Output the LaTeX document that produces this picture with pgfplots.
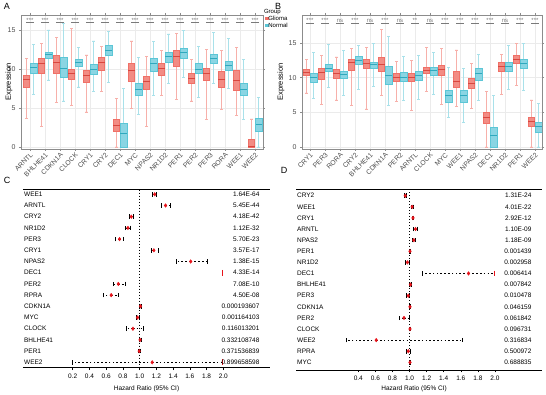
\documentclass[border=0pt]{standalone}
\usepackage{fontspec}
\setmainfont{Liberation Sans}
\usepackage{pgfplots}
\usepackage{pgfplotstable}
\pgfplotsset{compat=1.18}
\usepgfplotslibrary{statistics}

\definecolor{glioFill}{HTML}{F28C84}
\definecolor{glioLine}{HTML}{F07067}
\definecolor{glioMed}{HTML}{D9463E}
\definecolor{glioWhisk}{HTML}{F7B0AA}
\definecolor{normFill}{HTML}{8AD5E3}
\definecolor{normLine}{HTML}{5CC6D6}
\definecolor{normMed}{HTML}{2FA9BE}
\definecolor{normWhisk}{HTML}{A9E1EA}
\definecolor{tickgray}{HTML}{4D4D4D}
\definecolor{gridgray}{HTML}{EBEBEB}
\definecolor{framegray}{HTML}{8C8C8C}
\definecolor{sigGray}{HTML}{7A7A7A}
\definecolor{hrred}{HTML}{E8141B}

\newcommand{\fsz}[1]{\fontsize{#1}{#1}\selectfont}

% ---------- expression summaries: lower whisker, quartiles, median, upper whisker
\pgfplotstableread{
gene    lw   lq    med   uq    uw
ARNTL   3.7  7.7   8.6   9.2   11.3
BHLHE41 2.6  9.5   10.7  11.4  13.3
CDKN1A  5.7  9.5   10.8  11.8  14.0
CLOCK   5.3  8.7   9.4   10.0  15.2
CRY1    4.5  8.3   9.2   9.9   11.8
CRY2    7.1  9.9   10.8  11.5  12.9
DEC1    0.0  2.0   2.8   3.6   6.2
MYC     4.9  8.4   9.8   10.8  13.6
NPAS2   2.6  7.4   8.4   9.1   11.6
NR1D2   6.6  9.2   10.1  10.7  12.4
PER1    6.1  10.3  11.6  12.4  14.6
PER2    5.9  8.2   8.8   9.4   11.2
PER3    3.5  8.5   9.4   10.1  12.5
RORA    4.8  7.7   8.7   9.7   12.4
WEE1    4.0  7.3   8.5   9.8   12.8
WEE2    0.0  0.0   0.05  1.0   3.6
}\AGlioma
\pgfplotstableread{
gene    lw   lq    med   uq    uw
ARNTL   6.7  9.5   10.2  10.8  13.2
BHLHE41 8.6  11.4  11.9  12.2  15.0
CDKN1A  5.9  9.0   10.1  11.5  15.8
CLOCK   7.7  10.3  10.8  11.3  12.8
CRY1    7.1  9.3   9.9   10.6  13.6
CRY2    8.3  11.8  12.4  13.1  14.8
DEC1    0.0  0.0   1.7   3.0   7.5
MYC     4.2  6.6   7.4   8.2   11.5
NPAS2   6.6  9.7   10.7  11.4  13.5
NR1D2   8.2  10.9  11.6  12.2  14.5
PER1    8.9  11.4  12.1  12.6  14.9
PER2    6.3  9.4   10.0  10.7  12.9
PER3    8.2  10.7  11.3  11.9  14.7
RORA    7.5  9.9   10.4  11.0  13.9
WEE1    3.5  6.6   7.4   8.2   11.2
WEE2    0.0  2.0   2.9   3.7   6.4
}\ANormal
\pgfplotstableread{
gene    lw   lq    med   uq    uw
CRY1    7.8  10.4  10.8  11.2  12.6
PER3    6.2  9.8   10.8  11.4  13.2
RORA    6.8  10.0  10.6  11.2  13.0
CRY2    6.0  11.1  12.2  12.7  14.2
BHLHE41 5.5  11.3  12.0  12.6  14.4
CDKN1A  7.5  10.9  11.9  13.0  17.0
PER2    6.6  9.5   10.1  10.6  12.4
ARNTL   5.3  9.5   10.1  10.7  12.5
CLOCK   8.0  10.7  11.1  11.5  14.4
MYC     6.2  10.4  11.2  11.8  14.2
WEE1    5.8  8.7   9.5   10.9  14.0
NPAS2   5.6  8.5   9.2   9.95  12.0
DEC1    0.0  3.5   4.3   4.95  8.0
NR1D2   7.6  10.9  11.6  12.2  13.4
PER1    8.9  12.1  12.7  13.3  15.0
WEE2    0.0  3.0   3.65  4.3   6.8
}\BGlioma
\pgfplotstableread{
gene    lw   lq    med   uq    uw
CRY1    7.0  9.4   10.0  10.6  13.7
PER3    8.6  10.9  11.4  11.9  14.8
RORA    7.5  10.0  10.5  11.0  13.9
CRY2    8.3  11.9  12.5  13.1  14.7
BHLHE41 8.8  11.4  11.9  12.3  15.0
CDKN1A  6.0  9.1   10.3  11.6  15.9
PER2    6.7  9.5   10.1  10.8  13.1
ARNTL   6.9  9.6   10.3  11.0  13.2
CLOCK   7.6  10.4  11.0  11.5  13.7
MYC     4.3  6.5   7.4   8.2   11.5
WEE1    3.5  6.5   7.4   8.2   11.3
NPAS2   6.7  9.7   10.6  11.35 13.4
DEC1    0.0  0.0   1.6   2.9   7.4
NR1D2   8.3  11.0  11.6  12.2  14.6
PER1    8.2  11.35 12.1  12.65 15.0
WEE2    0.0  2.2   2.9   3.65  6.3
}\BNormal

% ---------- Cox regression: hazard ratio with 95% CI
\pgfplotstableread{
row gene    hr    lo    hi
1   WEE1    1.18  1.155 1.205
2   ARNTL   1.31  1.26  1.37
3   CRY2    0.90  0.88  0.92
4   NR1D2   0.86  0.83  0.89
5   PER3    0.76  0.71  0.81
6   CRY1    1.17  1.14  1.22
7   NPAS2   1.61  1.44  1.81
9   PER2    0.745 0.69  0.83
10  RPRA    0.66  0.57  0.75
11  CDKN1A  1.01  0.995 1.02
12  MYC     0.975 0.955 0.995
13  CLOCK   0.92  0.84  1.04
14  BHLHE41 1.005 0.995 1.015
15  PER1    0.995 0.985 1.005
16  WEE2    1.15  0.20  1.99
}\CForest
\pgfplotstableread{
row gene    hr    lo    hi
1   CRY2    0.95  0.935 0.965
2   WEE1    1.03  1.02  1.04
3   CRY1    1.04  1.03  1.05
4   ARNTL   1.07  1.045 1.095
5   NPAS2   1.05  1.035 1.07
6   PER1    1.005 0.995 1.015
7   NR1D2   0.975 0.955 0.995
8   DEC1    1.69  1.15  1.99
9   BHLHE41 1.01  1.0   1.02
10  PER3    0.985 0.96  1.0
11  CDKN1A  1.005 0.995 1.015
12  PER2    0.935 0.876 0.998
13  CLOCK   1.005 0.995 1.015
14  WEE2    0.61  0.256 1.62
15  RPRA    0.985 0.96  1.01
16  MYC     1.005 0.995 1.015
}\DForest

% one box from row #2 of table #1, style #3, drawn at #2 shifted by #4
\newcommand{\exprbox}[4]{%
  \pgfplotstablegetelem{#2}{lw}\of{#1}\let\bxlw\pgfplotsretval
  \pgfplotstablegetelem{#2}{lq}\of{#1}\let\bxlq\pgfplotsretval
  \pgfplotstablegetelem{#2}{med}\of{#1}\let\bxmed\pgfplotsretval
  \pgfplotstablegetelem{#2}{uq}\of{#1}\let\bxuq\pgfplotsretval
  \pgfplotstablegetelem{#2}{uw}\of{#1}\let\bxuw\pgfplotsretval
  \edef\bxcmd{\noexpand\addplot[#3, boxplot prepared={draw direction=y, draw position=#2#4,
    lower whisker=\bxlw, lower quartile=\bxlq, median=\bxmed,
    upper quartile=\bxuq, upper whisker=\bxuw}] coordinates {};}%
  \bxcmd
}

\pgfplotsset{
  exprbox/.style={
    scale only axis,
    axis line style={framegray, line width=0.6pt},
    xmajorgrids, ymajorgrids, major grid style={gridgray, line width=0.5pt},
    tick align=outside, major tick length=2pt,
    tick style={framegray, line width=0.5pt},
    xtick={0,...,15}, ytick={0,5,10,15},
    xticklabel style={rotate=45, anchor=north east, font=\fsz{6.8}, text=tickgray, inner sep=0.8pt},
    yticklabel style={font=\fsz{7}, text=tickgray},
    /pgf/number format/assume math mode=true,
    ylabel={Expression}, ylabel style={font=\fsz{7.5}, anchor=center},
  },
  gliobox/.style={draw=glioLine, fill=glioFill, line width=0.4pt, forget plot,
    boxplot/box extend=0.42, boxplot/whisker extend=0.18,
    boxplot/every whisker/.style={draw=glioWhisk, line width=0.7pt},
    boxplot/every median/.style={draw=glioMed, line width=0.9pt}},
  normbox/.style={draw=normLine, fill=normFill, line width=0.4pt, forget plot,
    boxplot/box extend=0.42, boxplot/whisker extend=0.18,
    boxplot/every whisker/.style={draw=normWhisk, line width=0.7pt},
    boxplot/every median/.style={draw=normMed, line width=0.9pt}},
  sigmarks/.style={only marks, forget plot, mark=-, mark size=4pt, sigGray,
    mark options={line width=0.4pt},
    point meta=explicit symbolic, nodes near coords,
    every node near coord/.append style={font=\fsz{6}, text=sigGray, anchor=south, inner sep=0.3pt}},
  forest/.style={scale only axis, y dir=reverse, separate axis lines,
    x axis line style={black, line width=0.9pt}, y axis line style={draw=none},
    xtick pos=left, tick align=outside, major tick length=2.4pt,
    xtick style={black, line width=0.6pt}, ytick style={draw=none},
    ytick={1,...,16},
    xticklabel={\pgfmathprintnumber[fixed,fixed zerofill,precision=1]{\tick}},
    xticklabel style={font=\fsz{6.5}},
    yticklabel style={font=\fsz{6.5}, anchor=west},
    xlabel={Hazard Ratio (95\% CI)}, xlabel style={font=\fsz{6.5}, anchor=center},
    /pgf/number format/assume math mode=true,
    clip=false,
  },
  pvals/.style={scale only axis, y dir=reverse, hide x axis,
    y axis line style={draw=none}, ytick={1,...,16}, ytick style={draw=none},
    yticklabel pos=right, major tick length=0pt,
    yticklabel style={font=\fsz{6.5}, anchor=east},
  },
  hrpoints/.style={only marks, mark=diamond*, mark size=1.8pt, hrred,
    error bars/.cd, x dir=both, x explicit,
    error bar style={black, line width=0.6pt, dash pattern=on 1.6pt off 2.2pt},
    error mark options={rotate=90, black, solid, mark size=2.3pt, line width=0.7pt}},
  clipbar/.style={only marks, mark=|, mark size=2.9pt, hrred, mark options={line width=1pt}},
}

\begin{document}
\begin{tikzpicture}
\useasboundingbox (0pt,0pt) rectangle (546pt,394pt);

% ---------------- A: TCGA expression
\begin{axis}[exprbox, at={(21pt,245pt)}, anchor=south west, width=242pt, height=134pt,
  xmin=-0.6, xmax=15.53, ymin=-0.26, ymax=16.92,
  xticklabels={ARNTL,BHLHE41,CDKN1A,CLOCK,CRY1,CRY2,DEC1,MYC,NPAS2,NR1D2,PER1,PER2,PER3,RORA,WEE1,WEE2},
  ylabel style={at={(axis description cs:-0.05,0.5)}},
  legend style={at={(axis description cs:1.008,1.052)}, anchor=north west, draw=none, fill=none,
    font=\fsz{6}, inner sep=0pt, row sep=0.6pt,
    nodes={inner sep=0.4pt, text height=4.4pt, text depth=1.2pt}},
  legend cell align=left,
]
\addlegendimage{legend image code/.code={\node[overlay, anchor=west, inner sep=0pt, font=\fsz{6}] at (-1.5pt,0pt) {Group};}}
\addlegendentry{}
\addlegendimage{legend image code/.code={\fill[glioLine] (0pt,-1.2pt) rectangle (2.4pt,1.2pt);}}
\addlegendentry{Glioma}
\addlegendimage{legend image code/.code={\fill[normLine] (0pt,-1.2pt) rectangle (2.4pt,1.2pt);}}
\addlegendentry{Normal}
\pgfplotsinvokeforeach{0,...,15}{
  \exprbox{\AGlioma}{#1}{gliobox}{-0.24}
  \exprbox{\ANormal}{#1}{normbox}{+0.24}
}
\addplot[sigmarks] coordinates {
  (0,15.95)[***] (1,15.95)[***] (2,15.95)[***] (3,15.95)[***] (4,15.95)[***] (5,15.95)[***]
  (6,15.95)[***] (7,15.95)[***] (8,15.95)[***] (9,15.95)[***] (10,15.95)[***] (11,15.95)[***]
  (12,15.95)[***] (13,15.95)[***] (14,15.95)[***] (15,15.95)[***]};
\end{axis}

% ---------------- B: GEO expression
\begin{axis}[exprbox, at={(302pt,245pt)}, anchor=south west, width=240pt, height=134pt,
  xmin=-0.53, xmax=15.47, ymin=-0.29, ymax=19.05,
  xticklabels={CRY1,PER3,RORA,CRY2,BHLHE41,CDKN1A,PER2,ARNTL,CLOCK,MYC,WEE1,NPAS2,DEC1,NR1D2,PER1,WEE2},
  ylabel style={at={(axis description cs:-0.0875,0.5)}},
]
\pgfplotsinvokeforeach{0,...,15}{
  \exprbox{\BGlioma}{#1}{gliobox}{-0.24}
  \exprbox{\BNormal}{#1}{normbox}{+0.24}
}
\addplot[sigmarks] coordinates {
  (0,17.9)[***] (1,17.9)[***] (2,17.9)[ns] (3,17.9)[***] (4,17.9)[ns] (5,17.9)[***]
  (6,17.9)[ns] (7,17.9)[**] (8,17.9)[ns] (9,17.9)[***] (10,17.9)[***] (11,17.9)[***]
  (12,17.9)[***] (13,17.9)[ns] (14,17.9)[***] (15,17.9)[***]};
\end{axis}

% ---------------- C: forest plot
\begin{axis}[forest, at={(23pt,26.3pt)}, anchor=south west, width=247pt, height=178.2pt,
  xmin=-0.394, xmax=2.558, ymin=0.57, ymax=16.48,
  xtick={0.2,0.4,0.6,0.8,1.0,1.2,1.4,1.6,1.8,2.0},
  yticklabels={WEE1,ARNTL,CRY2,NR1D2,PER3,CRY1,NPAS2,DEC1,PER2,RPRA,CDKN1A,MYC,CLOCK,BHLHE41,PER1,WEE2},
  xlabel style={at={(axis description cs:0.5,-0.1195)}},
]
\addplot[black, line width=0.8pt, dash pattern=on 0.8pt off 2.2pt] coordinates {(1,0.57) (1,16.48)};
\addplot[hrpoints] table[x=hr, y=row,
  x error plus expr=\thisrow{hi}-\thisrow{hr}, x error minus expr=\thisrow{hr}-\thisrow{lo}] {\CForest};
\addplot[clipbar] coordinates {(1.99,8) (1.99,16)};
\end{axis}
\begin{axis}[pvals, at={(23pt,26.3pt)}, anchor=south west, width=247pt, height=178.2pt,
  xmin=-0.394, xmax=2.558, ymin=0.57, ymax=16.48,
  yticklabels={1.64E-64,5.45E-44,4.18E-42,1.12E-32,5.70E-23,3.57E-17,1.38E-15,4.33E-14,7.08E-10,4.50E-08,0.000193607,0.001164103,0.116013201,0.332108748,0.371536839,0.899658598},
  yticklabel style={xshift=-7pt},
]
\node[anchor=south west, inner sep=0.6pt, font=\fsz{6.5}] at (axis description cs:0,1) {Gene};
\node[anchor=south east, inner sep=0.6pt, font=\fsz{6.5}] at (axis description cs:0.96,1) {p-value};
\end{axis}

% ---------------- D: forest plot
\begin{axis}[forest, at={(296pt,24pt)}, anchor=south west, width=246pt, height=181pt,
  xmin=-0.329, xmax=2.55, ymin=0.396, ymax=16.69,
  xtick={0.4,0.6,0.8,1.0,1.2,1.4,1.6,1.8,2.0},
  yticklabels={CRY2,WEE1,CRY1,ARNTL,NPAS2,PER1,NR1D2,DEC1,BHLHE41,PER3,CDKN1A,PER2,CLOCK,WEE2,RPRA,MYC},
  xlabel style={at={(axis description cs:0.48,-0.105)}},
]
\addplot[black, line width=0.8pt, dash pattern=on 0.8pt off 2.2pt] coordinates {(1,0.396) (1,16.69)};
\addplot[hrpoints] table[x=hr, y=row,
  x error plus expr=\thisrow{hi}-\thisrow{hr}, x error minus expr=\thisrow{hr}-\thisrow{lo}] {\DForest};
\addplot[clipbar] coordinates {(1.99,8)};
\end{axis}
\begin{axis}[pvals, at={(296pt,24pt)}, anchor=south west, width=246pt, height=181pt,
  xmin=-0.329, xmax=2.55, ymin=0.396, ymax=16.69,
  yticklabels={1.31E-24,4.01E-22,2.92E-12,1.10E-09,1.18E-09,0.001439,0.002958,0.006414,0.007842,0.010478,0.046159,0.061842,0.096731,0.316834,0.500972,0.688835},
  yticklabel style={xshift=-7pt},
]
\node[anchor=south west, inner sep=0.6pt, font=\fsz{6.5}] at (axis description cs:0.005,1) {Gene};
\node[anchor=south east, inner sep=0.6pt, font=\fsz{6.5}] at (axis description cs:0.95,1) {p-value};
\end{axis}

% panel letters
\node[font=\fsz{9}] at (7pt,388pt) {A};
\node[font=\fsz{9}] at (278pt,388pt) {B};
\node[font=\fsz{9}] at (7pt,214pt) {C};
\node[font=\fsz{9}] at (284pt,224pt) {D};
\end{tikzpicture}
\end{document}
